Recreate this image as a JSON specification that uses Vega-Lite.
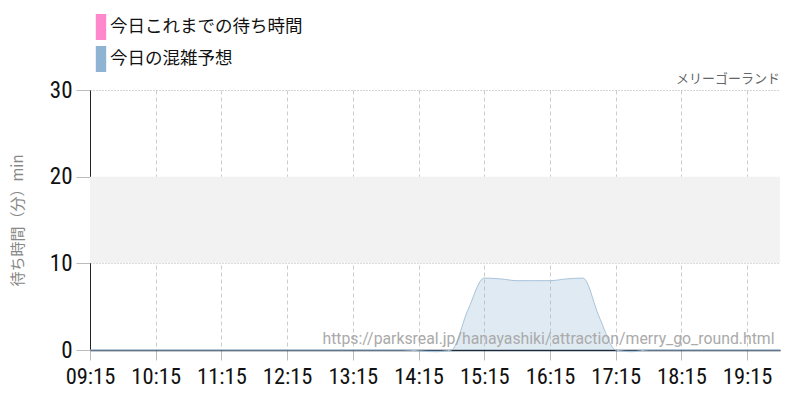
{
  "$schema": "https://vega.github.io/schema/vega-lite/v6.json",
  "width": 690,
  "height": 260,
  "autosize": {"type": "none"},
  "padding": {"left": 90, "top": 90, "right": 20, "bottom": 50},
  "background": "white",
  "title": {"text": "メリーゴーランド", "anchor": "end", "orient": "top", "frame": "group", "fontSize": 13, "fontWeight": "normal", "color": "#666666", "font": "Noto Sans CJK JP", "offset": 4, "dy": 76},
  "config": {"view": {"stroke": null}},
  "datasets": {
    "forecast": [
      {"t": "2024-01-01T09:15:00", "v": 0, "s": "今日の混雑予想"},
      {"t": "2024-01-01T09:45:00", "v": 0, "s": "今日の混雑予想"},
      {"t": "2024-01-01T10:15:00", "v": 0, "s": "今日の混雑予想"},
      {"t": "2024-01-01T10:45:00", "v": 0, "s": "今日の混雑予想"},
      {"t": "2024-01-01T11:15:00", "v": 0, "s": "今日の混雑予想"},
      {"t": "2024-01-01T11:45:00", "v": 0, "s": "今日の混雑予想"},
      {"t": "2024-01-01T12:15:00", "v": 0, "s": "今日の混雑予想"},
      {"t": "2024-01-01T12:45:00", "v": 0, "s": "今日の混雑予想"},
      {"t": "2024-01-01T13:15:00", "v": 0, "s": "今日の混雑予想"},
      {"t": "2024-01-01T13:45:00", "v": 0, "s": "今日の混雑予想"},
      {"t": "2024-01-01T14:00:00", "v": 0, "s": "今日の混雑予想"},
      {"t": "2024-01-01T14:30:00", "v": -0.2, "s": "今日の混雑予想"},
      {"t": "2024-01-01T14:45:00", "v": 0, "s": "今日の混雑予想"},
      {"t": "2024-01-01T15:00:00", "v": 4.6, "s": "今日の混雑予想"},
      {"t": "2024-01-01T15:15:00", "v": 8.3, "s": "今日の混雑予想"},
      {"t": "2024-01-01T15:30:00", "v": 8.2, "s": "今日の混雑予想"},
      {"t": "2024-01-01T15:45:00", "v": 8.0, "s": "今日の混雑予想"},
      {"t": "2024-01-01T16:00:00", "v": 8.0, "s": "今日の混雑予想"},
      {"t": "2024-01-01T16:15:00", "v": 8.0, "s": "今日の混雑予想"},
      {"t": "2024-01-01T16:30:00", "v": 8.2, "s": "今日の混雑予想"},
      {"t": "2024-01-01T16:45:00", "v": 8.3, "s": "今日の混雑予想"},
      {"t": "2024-01-01T17:00:00", "v": 3.8, "s": "今日の混雑予想"},
      {"t": "2024-01-01T17:15:00", "v": 0, "s": "今日の混雑予想"},
      {"t": "2024-01-01T17:30:00", "v": -0.2, "s": "今日の混雑予想"},
      {"t": "2024-01-01T17:45:00", "v": 0, "s": "今日の混雑予想"},
      {"t": "2024-01-01T18:15:00", "v": 0, "s": "今日の混雑予想"},
      {"t": "2024-01-01T18:45:00", "v": 0, "s": "今日の混雑予想"},
      {"t": "2024-01-01T19:15:00", "v": 0, "s": "今日の混雑予想"},
      {"t": "2024-01-01T19:45:00", "v": 0, "s": "今日の混雑予想"}
    ],
    "band": [{"lo": 10, "hi": 20}],
    "note": [{"t": "2024-01-01T19:40:00", "v": 0.4, "label": "https://parksreal.jp/hanayashiki/attraction/merry_go_round.html"}]
  },
  "layer": [
    {
      "data": {"name": "band"},
      "mark": {"type": "rect", "color": "#f2f2f2"},
      "encoding": {
        "y": {"field": "lo", "type": "quantitative", "scale": {"domain": [0, 30]}},
        "y2": {"field": "hi"}
      }
    },
    {
      "data": {"name": "forecast"},
      "mark": {"type": "area", "interpolate": "monotone", "fillOpacity": 0.28},
      "encoding": {
        "x": {
          "field": "t", "type": "temporal",
          "scale": {"domain": [{"year": 2024, "month": 1, "date": 1, "hours": 9, "minutes": 15}, {"year": 2024, "month": 1, "date": 1, "hours": 19, "minutes": 45}]},
          "axis": {
            "title": null,
            "format": "%H:%M",
            "values": [
              {"year": 2024, "month": 1, "date": 1, "hours": 9, "minutes": 15},
              {"year": 2024, "month": 1, "date": 1, "hours": 9, "minutes": 45},
              {"year": 2024, "month": 1, "date": 1, "hours": 10, "minutes": 15},
              {"year": 2024, "month": 1, "date": 1, "hours": 10, "minutes": 45},
              {"year": 2024, "month": 1, "date": 1, "hours": 11, "minutes": 15},
              {"year": 2024, "month": 1, "date": 1, "hours": 11, "minutes": 45},
              {"year": 2024, "month": 1, "date": 1, "hours": 12, "minutes": 15},
              {"year": 2024, "month": 1, "date": 1, "hours": 12, "minutes": 45},
              {"year": 2024, "month": 1, "date": 1, "hours": 13, "minutes": 15},
              {"year": 2024, "month": 1, "date": 1, "hours": 13, "minutes": 45},
              {"year": 2024, "month": 1, "date": 1, "hours": 14, "minutes": 15},
              {"year": 2024, "month": 1, "date": 1, "hours": 14, "minutes": 45},
              {"year": 2024, "month": 1, "date": 1, "hours": 15, "minutes": 15},
              {"year": 2024, "month": 1, "date": 1, "hours": 15, "minutes": 45},
              {"year": 2024, "month": 1, "date": 1, "hours": 16, "minutes": 15},
              {"year": 2024, "month": 1, "date": 1, "hours": 16, "minutes": 45},
              {"year": 2024, "month": 1, "date": 1, "hours": 17, "minutes": 15},
              {"year": 2024, "month": 1, "date": 1, "hours": 17, "minutes": 45},
              {"year": 2024, "month": 1, "date": 1, "hours": 18, "minutes": 15},
              {"year": 2024, "month": 1, "date": 1, "hours": 18, "minutes": 45},
              {"year": 2024, "month": 1, "date": 1, "hours": 19, "minutes": 15},
              {"year": 2024, "month": 1, "date": 1, "hours": 19, "minutes": 45}
            ],
            "labelExpr": "minutes(datum.value) == 15 ? datum.label : ''",
            "labelFont": "Roboto Condensed",
            "labelFontSize": 22.5,
            "labelColor": "#111111",
            "labelPadding": 5,
            "labelFlush": false,
            "labelOverlap": false,
            "domainColor": "#1a2a3a",
            "domainWidth": 1.5,
            "tickSize": 10,
            "tickColor": "#bbbbbb",
            "tickOpacity": {"condition": {"test": "minutes(datum.value) == 15", "value": 1}, "value": 0},
            "grid": true,
            "gridColor": "#cccccc",
            "gridDash": [4, 3],
            "gridWidth": 1
          }
        },
        "y": {
          "field": "v", "type": "quantitative",
          "scale": {"domain": [0, 30]},
          "axis": {
            "title": "待ち時間（分）min",
            "titleFont": "Noto Sans CJK JP",
            "titleFontSize": 15,
            "titleFontWeight": "normal",
            "titleColor": "#888888",
            "titlePadding": 24,
            "values": [0, 10, 20, 30],
            "labelFont": "Roboto Condensed",
            "labelFontSize": 23,
            "labelColor": "#111111",
            "labelPadding": 4,
            "labelFlush": false,
            "domainColor": "#222222",
            "tickSize": 14,
            "tickColor": "#bbbbbb",
            "grid": true,
            "gridColor": "#aaaaaa",
            "gridDash": [1, 2]
          }
        },
        "color": {
          "field": "s", "type": "nominal",
          "scale": {"domain": ["今日これまでの待ち時間", "今日の混雑予想"], "range": ["#ff88cc", "#8fb3d3"]},
          "legend": {
            "title": null,
            "orient": "none",
            "legendX": -2,
            "legendY": -76,
            "symbolType": "M-0.4,-1H0.4V1H-0.4Z",
            "symbolSize": 676,
            "symbolOpacity": 1,
            "symbolStrokeWidth": 0,
            "labelFont": "Noto Sans CJK JP",
            "labelFontSize": 17.5,
            "labelColor": "#111111",
            "labelOffset": -4,
            "rowPadding": 6,
            "labelLimit": 400
          }
        }
      }
    },
    {
      "data": {"name": "forecast"},
      "mark": {"type": "line", "interpolate": "monotone", "color": "#a8c3dc", "strokeWidth": 1},
      "encoding": {
        "x": {"field": "t", "type": "temporal"},
        "y": {"field": "v", "type": "quantitative"}
      }
    },
    {
      "data": {"name": "note"},
      "mark": {"type": "text", "align": "right", "baseline": "bottom", "font": "Roboto", "fontSize": 15.8, "color": "#aaaaaa"},
      "encoding": {
        "x": {"field": "t", "type": "temporal"},
        "y": {"field": "v", "type": "quantitative"},
        "text": {"field": "label"}
      }
    }
  ]
}
